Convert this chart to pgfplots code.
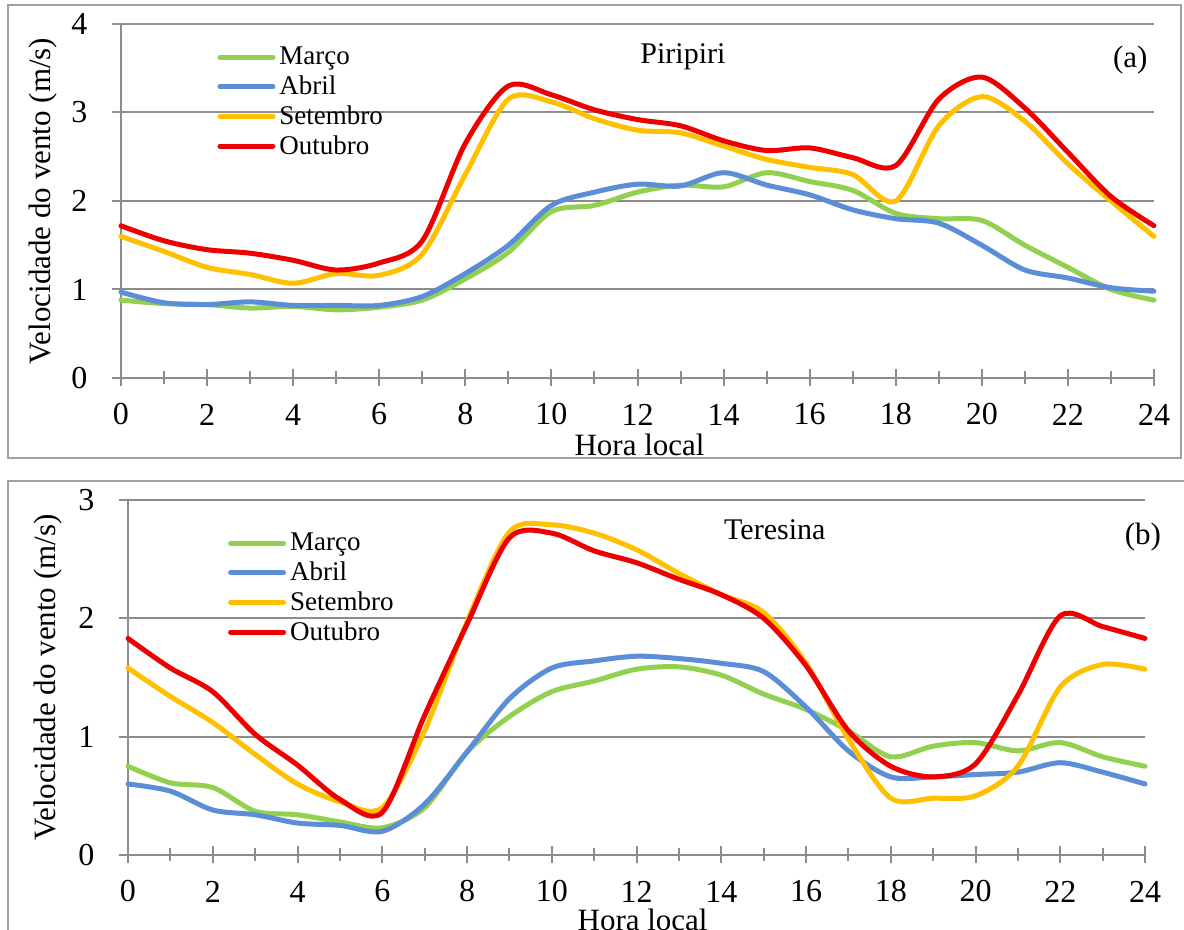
\documentclass[border=0pt]{standalone}
\usepackage{pgfplots}
\pgfplotsset{compat=1.18}
\usepackage{pgfplotstable}
\usepackage{fontspec}
\setmainfont{Liberation Serif}

\definecolor{cMar}{HTML}{92D050}
\definecolor{cAbr}{HTML}{5B8ED6}
\definecolor{cSet}{HTML}{FFC000}
\definecolor{cOut}{HTML}{EE0000}
\definecolor{axgray}{HTML}{8C8C8C}
\definecolor{frgray}{HTML}{A0A0A0}

\pgfplotstableread{
h mar abr set out
0 0.88 0.97 1.60 1.72
1 0.84 0.85 1.43 1.55
2 0.83 0.83 1.25 1.45
3 0.79 0.86 1.17 1.41
4 0.81 0.82 1.07 1.33
5 0.77 0.82 1.18 1.22
6 0.80 0.82 1.16 1.30
7 0.88 0.92 1.40 1.55
8 1.12 1.18 2.30 2.65
9 1.42 1.50 3.15 3.30
10 1.88 1.95 3.12 3.20
11 1.95 2.10 2.93 3.03
12 2.10 2.19 2.80 2.92
13 2.18 2.17 2.77 2.85
14 2.16 2.32 2.62 2.68
15 2.32 2.18 2.47 2.57
16 2.22 2.07 2.38 2.60
17 2.12 1.90 2.30 2.49
18 1.86 1.80 2.00 2.40
19 1.80 1.75 2.85 3.15
20 1.78 1.50 3.18 3.40
21 1.50 1.22 2.90 3.05
22 1.25 1.13 2.42 2.55
23 1.00 1.02 2.00 2.05
24 0.88 0.98 1.60 1.72
}\piripiri

\pgfplotstableread{
h mar abr set out
0 0.75 0.60 1.58 1.83
1 0.61 0.54 1.34 1.58
2 0.57 0.38 1.12 1.38
3 0.37 0.34 0.85 1.02
4 0.34 0.27 0.60 0.76
5 0.28 0.25 0.45 0.47
6 0.23 0.20 0.40 0.36
7 0.40 0.43 1.05 1.18
8 0.87 0.87 1.97 1.95
9 1.17 1.32 2.73 2.68
10 1.38 1.58 2.79 2.72
11 1.47 1.64 2.72 2.57
12 1.57 1.68 2.58 2.47
13 1.59 1.66 2.38 2.33
14 1.52 1.62 2.20 2.20
15 1.36 1.55 2.05 2.00
16 1.23 1.25 1.62 1.60
17 1.05 0.88 0.98 1.05
18 0.83 0.66 0.48 0.75
19 0.92 0.66 0.48 0.66
20 0.95 0.68 0.50 0.77
21 0.88 0.70 0.75 1.35
22 0.95 0.78 1.42 2.02
23 0.83 0.70 1.61 1.93
24 0.75 0.60 1.57 1.83
}\teresina

\pgfplotsset{
 panel/.style={
  scale only axis,
  xmin=0, xmax=24, ymin=0,
  axis x line*=bottom, axis y line*=left,
  axis line style={draw=axgray, line width=1pt, -},
  xtick={0,2,...,24}, minor xtick={1,3,...,23},
  tick align=center,
  major tick length=8.5pt, minor tick length=6.5pt,
  every tick/.style={axgray, line width=1pt},
  ymajorgrids, grid style={axgray, line width=1pt},
  tick label style={font=\fontsize{16}{19}\selectfont},
  /pgf/number format/assume math mode=true,
  xticklabel style={anchor=center, yshift=-14pt},
  yticklabel style={anchor=center, xshift=-16.5pt},
  label style={font=\fontsize{15.5}{18}\selectfont},
  xlabel={Hora local}, ylabel={Velocidade do vento (m/s)},
  legend cell align=left,
  legend style={draw=none, fill=none, font=\fontsize{13.5}{15}\selectfont, anchor=north west, row sep=0pt, inner sep=0pt},
  legend image code/.code={\draw[#1, line width=2.5pt, line cap=round] (0pt,0pt) -- (26.5pt,0pt);},
  every axis plot/.append style={line width=2.5pt, smooth, tension=0.5, line cap=round, line join=round},
  clip=false,
 }
}

\begin{document}
\begin{tikzpicture}
\useasboundingbox (0,0) rectangle (592pt,465pt);
\draw[frgray, line width=1pt] (4pt,236pt) rectangle (590.5pt,462.5pt);
\draw[frgray, line width=1pt] (4pt,-3pt) rectangle (595pt,224.5pt);

\begin{axis}[panel,
  at={(60.5pt,276pt)}, anchor=south west,
  width=516.5pt, height=177pt,
  ymax=4, ytick={0,1,2,3,4},
  xlabel style={at={(axis description cs:0.502,-0.189)}, anchor=center},
  ylabel style={at={(axis description cs:-0.075,0.5)}, anchor=center},
  legend style={at={(axis description cs:0.093,0.947)}},
]
\addplot[cMar] table[x=h,y=mar]{\piripiri};
\addlegendentry{Março}
\addplot[cAbr] table[x=h,y=abr]{\piripiri};
\addlegendentry{Abril}
\addplot[cSet] table[x=h,y=set]{\piripiri};
\addlegendentry{Setembro}
\addplot[cOut] table[x=h,y=out]{\piripiri};
\addlegendentry{Outubro}
\node[font=\fontsize{15}{18}\selectfont] at (rel axis cs:0.544,0.907) {Piripiri};
\node[font=\fontsize{15.5}{18}\selectfont] at (rel axis cs:0.977,0.898) {(a)};
\end{axis}

\begin{axis}[panel,
  at={(64pt,37.5pt)}, anchor=south west,
  width=508.5pt, height=177.5pt,
  ymax=3, ytick={0,1,2,3},
  xlabel style={at={(axis description cs:0.506,-0.183)}, anchor=center},
  ylabel style={at={(axis description cs:-0.079,0.5)}, anchor=center},
  legend style={at={(axis description cs:0.098,0.919)}},
]
\addplot[cMar] table[x=h,y=mar]{\teresina};
\addlegendentry{Março}
\addplot[cAbr] table[x=h,y=abr]{\teresina};
\addlegendentry{Abril}
\addplot[cSet] table[x=h,y=set]{\teresina};
\addlegendentry{Setembro}
\addplot[cOut] table[x=h,y=out]{\teresina};
\addlegendentry{Outubro}
\node[font=\fontsize{15}{18}\selectfont] at (rel axis cs:0.636,0.915) {Teresina};
\node[font=\fontsize{15.5}{18}\selectfont] at (rel axis cs:0.998,0.896) {(b)};
\end{axis}
\end{tikzpicture}
\end{document}
